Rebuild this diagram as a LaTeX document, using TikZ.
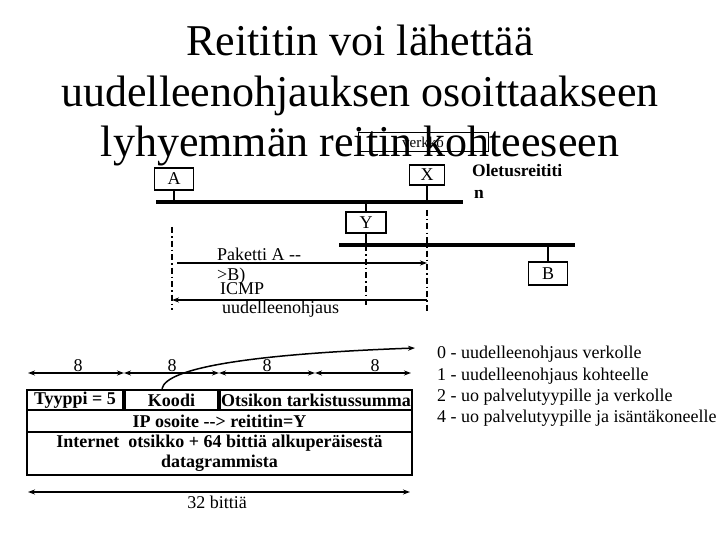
\documentclass[tikz,border=0pt]{standalone}
\usepackage{fontspec}
\setmainfont{Liberation Serif}
\usetikzlibrary{arrows.meta}

\tikzset{
  otsikko/.style={anchor=base, inner sep=0pt, font=\fontsize{44}{50}\selectfont},
  laite/.style={draw, line width=1.5pt, inner sep=0pt, font=\fontsize{18}{20}\selectfont},
  verkkoviiva/.style={line width=4pt},
  pisteviiva/.style={line width=1.5pt, dash pattern=on 6pt off 3pt on 1.5pt off 3pt},
  nuoli/.style={line width=1.5pt, -{Stealth[length=7pt,width=5pt]}},
  kaksinuoli/.style={line width=1.5pt, {Stealth[length=7pt,width=5pt]}-{Stealth[length=7pt,width=5pt]}},
  teksti/.style={inner sep=0pt, font=\fontsize{18}{19}\selectfont},
  kentta/.style={draw, line width=2.5pt, inner sep=0pt, font=\bfseries\fontsize{18}{20}\selectfont}
}

\begin{document}
\begin{tikzpicture}[x=1pt, y=-1pt]
    \useasboundingbox (0,0) rectangle (720,540);

    \node[otsikko] (rivi1) at (360,56) {Reititin voi lähettää};
    \node[otsikko] (rivi2) at (360,107) {uudelleenohjauksen osoittaakseen};
    \node[otsikko] (rivi3) at (360,157) {lyhyemmän reitin kohteeseen};

    % verkot ja laitteet
    \coordinate (verkko1a) at (156,202);
    \coordinate (verkko1b) at (463,202);
    \coordinate (verkko2a) at (339,245);
    \coordinate (verkko2b) at (575,245);
    \draw[verkkoviiva] (verkko1a) -- (verkko1b);
    \draw[verkkoviiva] (verkko2a) -- (verkko2b);

    \node[laite, minimum width=39, minimum height=22] (A) at (174,179) {A};
    \node[laite, minimum width=35, minimum height=20] (X) at (427,175) {X};
    \node[laite, minimum width=40, minimum height=21] (Y) at (366,222.5) {Y};
    \node[laite, minimum width=39, minimum height=23] (B) at (548,273.5) {B};
    \node[laite, line width=1pt, minimum width=130, minimum height=19,
          font=\fontsize{15}{15}\selectfont] (verkko) at (423,142) {verkko};

    \draw[line width=1.5pt] (A.south) -- (A.south |- verkko1a);
    \draw[line width=1.5pt] (X.south) -- (X.south |- verkko1a);
    \draw[line width=1.5pt] (Y.north) -- (Y.north |- verkko1a);
    \draw[line width=1.5pt] (Y.south) -- (Y.south |- verkko2a);
    \draw[line width=1.5pt] (B.north) -- (B.north |- verkko2a);

    \node[teksti, anchor=base west, font=\bfseries\fontsize{17.5}{22}\selectfont]
        (oletus1) at (472,177) {Oletusreititi};
    \node[teksti, anchor=base west, font=\bfseries\fontsize{17.5}{22}\selectfont]
        (oletus2) at (474,199) {n};

    % paketin kulku
    \coordinate (lahtoA) at (172,227);
    \coordinate (loppuA) at (172,310);
    \coordinate (lahtoX) at (427,210);
    \coordinate (loppuX) at (427,312);
    \coordinate (loppuY) at (366,306);
    \draw[pisteviiva] (lahtoA) -- (loppuA);
    \draw[pisteviiva] (lahtoX) -- (loppuX);
    \draw[pisteviiva] (Y.south |- verkko2a) -- (loppuY);

    \coordinate (paketti1) at (177,263);
    \coordinate (paketti2) at (427,263);
    \coordinate (icmp1) at (427,300);
    \coordinate (icmp2) at (172,300);
    \draw[nuoli] (paketti1) -- (paketti2);
    \draw[nuoli] (icmp1) -- (icmp2);

    \node[teksti, anchor=base west] (paketti) at (217,260) {Paketti A -{}-};
    \node[teksti, anchor=base west] (kohdeB) at (217,280) {>B)};
    \node[teksti, anchor=base west] (icmp) at (220,294) {ICMP};
    \node[teksti, anchor=base west] (uo) at (222,313) {uudelleenohjaus};

    % otsakkeen rakenne
    \coordinate (b0) at (28,373);
    \coordinate (b1) at (124,373);
    \coordinate (b2) at (219,373);
    \coordinate (b3) at (315,373);
    \coordinate (b4) at (411,373);
    \draw[kaksinuoli] (b0) -- (b1);
    \draw[kaksinuoli] (b1) -- (b2);
    \draw[kaksinuoli] (b2) -- (b3);
    \draw[kaksinuoli] (b3) -- (b4);
    \node[teksti, anchor=base] (k1) at (78,371) {8};
    \node[teksti, anchor=base] (k2) at (172,371) {8};
    \node[teksti, anchor=base] (k3) at (267,371) {8};
    \node[teksti, anchor=base] (k4) at (375,371) {8};

    \node[kentta, minimum width=96, minimum height=20] (tyyppi) at (75,400) {Tyyppi = 5};
    \node[kentta, minimum width=93, minimum height=20] (koodi) at (171.5,400) {Koodi};
    \node[kentta, minimum width=192, minimum height=20] (summa) at (316,400) {Otsikon tarkistussumma};
    \node[kentta, minimum width=385, minimum height=22] (ip) at (219.5,421) {IP osoite -{}-{}> reititin=Y};
    \node[kentta, minimum width=385, minimum height=43, align=center]
        (internet) at (219.5,453.5) {Internet\ \ otsikko + 64 bittiä alkuperäisestä\\datagrammista};

    \coordinate (selitekohta) at (415,348);
    \draw[nuoli] (koodi.north -| 162,0) .. controls (166,368) and (250,354) .. (selitekohta);

    \coordinate (pituus0) at (28,492);
    \coordinate (pituus1) at (410,492);
    \draw[kaksinuoli] (pituus0) -- (pituus1);
    \node[teksti, anchor=base] (bitit) at (217,508) {32 bittiä};

    % koodien selitys
    \node[teksti, anchor=base west] (sel0) at (437,358) {0 - uudelleenohjaus verkolle};
    \node[teksti, anchor=base west] (sel1) at (437,380) {1 - uudelleenohjaus kohteelle};
    \node[teksti, anchor=base west] (sel2) at (437,401) {2 - uo palvelutyypille ja verkolle};
    \node[teksti, anchor=base west] (sel3) at (437,422) {4 - uo palvelutyypille ja isäntäkoneelle};
\end{tikzpicture}
\end{document}
